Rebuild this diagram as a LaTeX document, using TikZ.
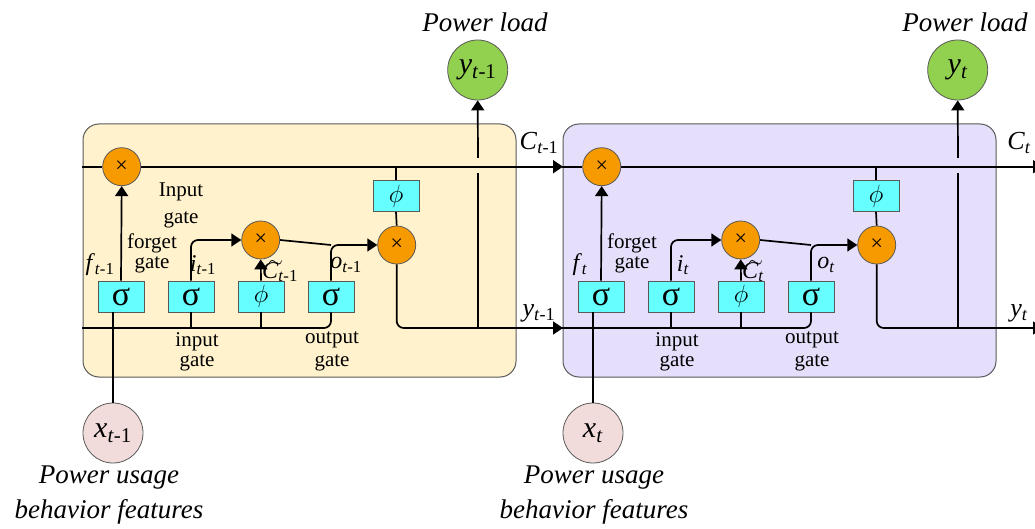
\documentclass[tikz,border=0pt]{standalone}
\usepackage{fix-cm}
\usepackage{fontspec}
\setmainfont{Liberation Serif}
\usetikzlibrary{arrows.meta}
\definecolor{cellA}{HTML}{FFF2CC}
\definecolor{cellB}{HTML}{E5DFFB}
\definecolor{multc}{HTML}{F79A00}
\definecolor{gatec}{HTML}{66FFFF}
\definecolor{outc}{HTML}{92D050}
\definecolor{inc}{HTML}{F2DCDB}
\definecolor{edgec}{HTML}{595959}
\newcommand\fs[1]{\fontsize{#1}{#1}\selectfont}
\newcommand\mylab[2]{\textit{#1}\textsubscript{#2}}
\newcommand\tildeC{\makebox[0pt][l]{\hspace{6pt}\raisebox{11pt}{\fs{19}$\sim$}}\textit{C}}
\tikzset{
  mult/.style={circle, fill=multc, draw=edgec, line width=0.8pt, minimum size=38pt, inner sep=0pt, font=\fs{22}},
  gatebox/.style={rectangle, fill=gatec, draw=edgec, line width=0.8pt, minimum width=46pt, minimum height=31pt, inner sep=0pt},
  outnode/.style={circle, fill=outc, draw=edgec, line width=0.8pt, minimum size=60pt, inner sep=0pt, font=\fs{30}},
  innode/.style={circle, fill=inc, draw=edgec, line width=0.8pt, minimum size=60pt, inner sep=0pt, font=\fs{30}},
  cellbox/.style={draw=edgec, line width=1pt, rounded corners=16pt},
  conn/.style={line width=1.7pt, draw=black},
  arr/.style={conn, -{Triangle[length=10pt,width=13pt]}},
  txt/.style={font=\fs{21}, inner sep=0pt},
  lbl/.style={font=\fs{24}, inner sep=0pt},
  biglbl/.style={font=\fs{26}, inner sep=0pt},
  caption/.style={font=\itshape\fs{27}, inner sep=0pt},
}
% #1 x shift, #2 name suffix, #3 subscript, #4 fill colour, #5 caption x
\newcommand\lstmcell[5]{%
\begin{scope}[xshift=#1pt]
  \path[cellbox, fill=#4] (83,124) rectangle (516,377);
  \node[mult] (f#2) at (121.7,166.7) {×};
  \node[mult] (cm#2) at (260.7,240) {×};
  \node[mult] (om#2) at (396.7,245) {×};
  \node[gatebox] (sf#2) at (121,296.5) {\fs{34}σ};
  \node[gatebox] (si#2) at (191,296.5) {\fs{34}σ};
  \node[gatebox] (sc#2) at (261,296.5) {\fs{25}$\phi$};
  \node[gatebox] (so#2) at (331,296.5) {\fs{34}σ};
  \node[gatebox] (po#2) at (396,196) {\fs{25}$\phi$};
  \node[outnode] (yo#2) at (477.7,70) {\mylab{y}{#3}};
  \node[innode] (x#2) at (113,433) {\mylab{x}{#3}};
  \coordinate (cin#2) at (82,166.7);
  \coordinate (yin#2) at (82,328);
  \coordinate (cout#2) at (563,166.7);
  \coordinate (yout#2) at (563,328);
  \coordinate (tap#2) at (478,328);
  \coordinate (gaplo#2) at (478,173);
  \coordinate (gaphi#2) at (478,158);
  % cell state line
  \draw[conn] (cin#2) -- (f#2.west);
  \draw[arr] (f#2.east) -- (cout#2);
  \draw[conn] (po#2.north) -- (po#2.north |- f#2.center);
  \draw[conn] (po#2.south) -- (om#2.north);
  % hidden line
  \draw[conn, rounded corners=7pt] (yin#2) -| (so#2.south);
  \draw[arr, rounded corners=7pt] (om#2.south) |- (yout#2);
  \draw[conn] (tap#2) -- (gaplo#2);
  \draw[arr] (gaphi#2) -- (yo#2.south);
  % input x
  \draw[conn] (x#2.north) -- (x#2.north |- sf#2.south);
  % labels
  \node[lbl] (lf#2) at (100,265) {\mylab{f}{#3}};
  \node[txt] (lfg1#2) at (152,243) {forget};
  \node[txt] (lfg2#2) at (152,265) {gate};
  \node[lbl] (li#2) at (203,265) {\mylab{i}{#3}};
  \node[lbl, anchor=base west] (lc#2) at (262,278) {\tildeC\textsubscript{#3}};
  \node[lbl] (lo#2) at (346,265) {\mylab{o}{#3}};
  \node[txt] (lig1#2) at (197,342) {input};
  \node[txt] (lig2#2) at (197,363) {gate};
  \node[txt] (log1#2) at (332,340) {output};
  \node[txt] (log2#2) at (332,363) {gate};
  \node[biglbl] (lC#2) at (539,143) {\mylab{C}{#3}};
  \node[biglbl] (ly#2) at (539,313) {\mylab{y}{#3}};
  \node[caption] (pl#2) at (485,22) {Power load};
  \node[caption] (pu#2) at (#5,478) {Power usage};
  \node[caption] (bf#2) at (#5,512) {behavior features};
  % forget gate
  \draw[arr] (sf#2.north) -- (f#2.south);
  % input gate
  \draw[conn] (si#2.south) -- (si#2.south |- yin#2);
  \draw[arr, rounded corners=7pt] (si#2.north) |- (cm#2.west);
  % candidate
  \draw[conn] (sc#2.south) -- (sc#2.south |- yin#2);
  \draw[arr] (sc#2.north) -- (cm#2.south);
  % output gate
  \draw[arr, rounded corners=7pt] (so#2.north) |- (om#2.west);
  \draw[conn] (cm#2.east) -- (so#2.north |- om#2.west);
\end{scope}}
\begin{document}
\begin{tikzpicture}[x=1pt,y=-1pt]
  \clip (0,0) rectangle (1035,529);
  \fill[white] (0,0) rectangle (1035,529);
  \lstmcell{0}{a}{\textit{t}-1}{cellA}{109}
  \lstmcell{480}{b}{\textit{t}}{cellB}{114}
  \node[txt] (ig1) at (181,192) {Input};
  \node[txt] (ig2) at (181,220) {gate};
\end{tikzpicture}
\end{document}
